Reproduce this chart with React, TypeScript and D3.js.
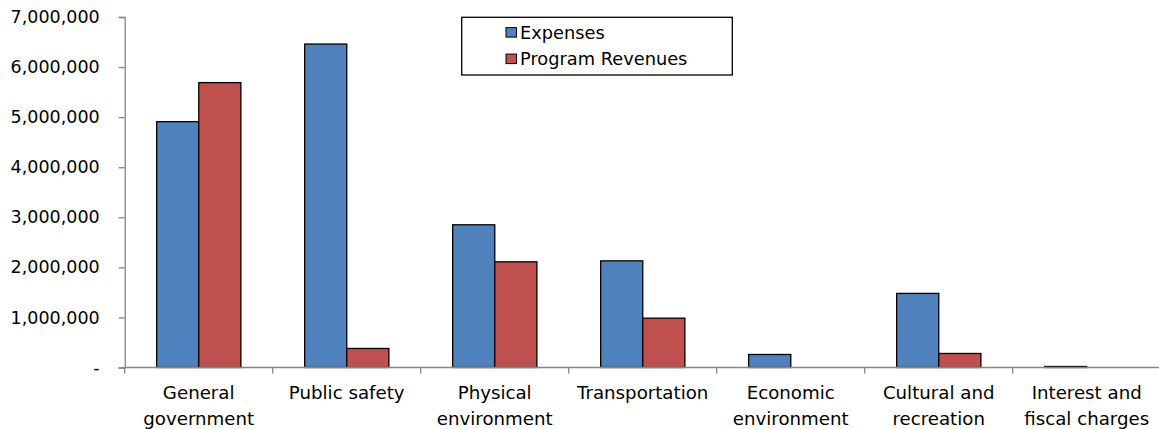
import React, { useRef, useEffect } from "react"
import * as d3 from "d3"

const categories = [
  "General government",
  "Public safety",
  "Physical environment",
  "Transportation",
  "Economic environment",
  "Cultural and recreation",
  "Interest and fiscal charges",
]

const categoryLines = [
  ["General", "government"],
  ["Public safety"],
  ["Physical", "environment"],
  ["Transportation"],
  ["Economic", "environment"],
  ["Cultural and", "recreation"],
  ["Interest and", "fiscal charges"],
]

const seriesNames = ["Expenses", "Program Revenues"]
const seriesColors = ["#4F81BD", "#C0504D"]

const expenses = [4910000, 6460000, 2850000, 2130000, 260000, 1480000, 20000]
const programRevenues = [5690000, 380000, 2110000, 985000, 0, 280000, 0]

const yTicks = [0, 1000000, 2000000, 3000000, 4000000, 5000000, 6000000, 7000000]

const width = 1159
const height = 429
const font = "'DejaVu Sans', Verdana, sans-serif"

const BarChart: React.FC = () => {
  const svgRef = useRef<SVGSVGElement | null>(null)

  useEffect(() => {
    if (!svgRef.current) return
    const svg = d3.select(svgRef.current)
    svg.selectAll("*").remove()

    const left = 124.7
    const bottom = 367.5
    const band = 148

    const x = d3
      .scaleBand<string>()
      .domain(categories)
      .range([left, left + band * categories.length])
      .paddingInner(0)
      .paddingOuter(0)

    const bw = x.bandwidth()
    const x1 = d3
      .scaleBand<string>()
      .domain(seriesNames)
      .range([bw * 0.216, bw * 0.785])

    const y = d3.scaleLinear().domain([0, 7000000]).range([bottom, 17])

    const values = [expenses, programRevenues]

    // Bars
    seriesNames.forEach((s, si) => {
      svg
        .append("g")
        .selectAll("rect")
        .data(values[si].map((v, i) => ({ c: categories[i], v })))
        .join("rect")
        .filter((d) => d.v > 0)
        .attr("x", (d) => (x(d.c) || 0) + (x1(s) || 0))
        .attr("y", (d) => y(d.v))
        .attr("width", x1.bandwidth())
        .attr("height", (d) => bottom - y(d.v))
        .attr("fill", seriesColors[si])
        .attr("stroke", "#000")
        .attr("stroke-width", 1.3)
    })

    // Y axis
    const yAxis = svg
      .append("g")
      .attr("transform", `translate(${left},0)`)
      .call(
        d3
          .axisLeft(y)
          .tickValues(yTicks)
          .tickSize(6)
          .tickPadding(19)
          .tickFormat((d) => (+d === 0 ? "-" : d3.format(",")(+d)))
      )
    yAxis.select(".domain").attr("stroke", "#868686").attr("stroke-width", 1.3)
    yAxis.selectAll(".tick line").attr("stroke", "#868686").attr("stroke-width", 1.3)
    yAxis
      .selectAll(".tick text")
      .attr("fill", "#000")
      .style("font-family", font)
      .style("font-size", "17.5px")

    // X axis
    const xg = svg.append("g")
    xg.append("line")
      .attr("x1", left)
      .attr("x2", x.range()[1])
      .attr("y1", bottom)
      .attr("y2", bottom)
      .attr("stroke", "#868686")
      .attr("stroke-width", 1.3)
    const edges = categories.map((c) => x(c) || 0).concat([x.range()[1]])
    xg.selectAll("line.edge")
      .data(edges)
      .join("line")
      .attr("class", "edge")
      .attr("x1", (d) => d)
      .attr("x2", (d) => d)
      .attr("y1", bottom)
      .attr("y2", bottom + 6)
      .attr("stroke", "#868686")
      .attr("stroke-width", 1.3)

    xg.selectAll("text")
      .data(categories)
      .join("text")
      .attr("x", (d) => (x(d) || 0) + bw / 2)
      .attr("y", 399.3)
      .attr("text-anchor", "middle")
      .style("font-family", font)
      .style("font-size", "18.2px")
      .attr("fill", "#000")
      .each(function (d, i) {
        const t = d3.select(this)
        categoryLines[i].forEach((line, li) => {
          t.append("tspan")
            .attr("x", (x(d) || 0) + bw / 2)
            .attr("dy", li === 0 ? 0 : 25.7)
            .text(line)
        })
      })

    // Legend
    const lg = svg.append("g")
    lg.append("rect")
      .attr("x", 461.7)
      .attr("y", 17.3)
      .attr("width", 270.6)
      .attr("height", 57.7)
      .attr("fill", "#fff")
      .attr("stroke", "#000")
      .attr("stroke-width", 1.3)
    seriesNames.forEach((s, i) => {
      const cy = 32.3 + i * 26.5
      lg.append("rect")
        .attr("x", 506)
        .attr("y", cy - 4.7)
        .attr("width", 10.5)
        .attr("height", 9.5)
        .attr("fill", seriesColors[i])
        .attr("stroke", "#000")
        .attr("stroke-width", 1)
      lg.append("text")
        .attr("x", 520)
        .attr("y", cy)
        .attr("dy", "0.36em")
        .style("font-family", font)
        .style("font-size", "17.8px")
        .attr("fill", "#000")
        .text(s)
    })
  }, [])

  return (
    <svg
      ref={svgRef}
      width={width}
      height={height}
      style={{ position: "absolute", left: 0, top: 0, background: "#fff" }}
    ></svg>
  )
}

export default function App() {
  return <BarChart />
}
